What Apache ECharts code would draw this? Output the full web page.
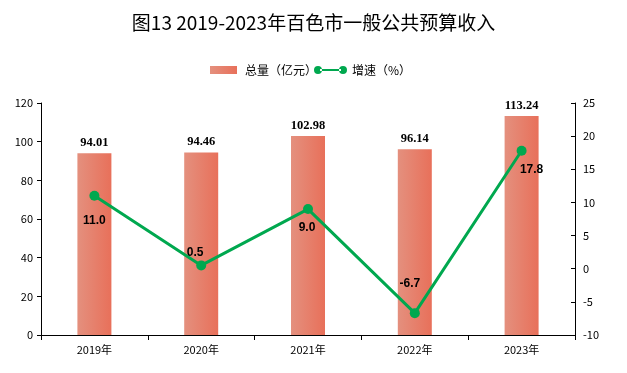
<!DOCTYPE html>
<html><head><meta charset="utf-8">
<script src="https://cdn.jsdelivr.net/npm/echarts@6/dist/echarts.min.js"></script>
<style>html,body{margin:0;padding:0;background:#fff}#c{width:627px;height:373px}</style>
</head><body><div id="c"></div>
<script>
const categories = ['2019年','2020年','2021年','2022年','2023年'];
const totals = [94.01, 94.46, 102.98, 96.14, 113.24];
const growth = [11.0, 0.5, 9.0, -6.7, 17.8];
const growthLabels = ['11.0','0.5','9.0','-6.7','17.8'];
const leftTicks = {min: 0, max: 120, interval: 20};
const rightTicks = {min: -10, max: 25, interval: 5};

// label placement per point (style only)
const labelPlace = [
  {position: 'bottom', offset: [0, 8]},
  {position: 'top', offset: [-6, 4]},
  {position: 'bottom', offset: [-1, 2]},
  {position: 'top', offset: [-5, -12]},
  {position: 'bottom', offset: [10, 2]}
];

const chart = echarts.init(document.getElementById('c'), null, {renderer: 'canvas'});
const axisFont = {fontFamily: '"Noto Sans CJK SC", sans-serif', fontSize: 11, color: '#000'};
const lineIcon = 'path://M0,4 a4,4 0 1,0 8,0 a4,4 0 1,0 -8,0 Z M25,4 a4,4 0 1,0 8,0 a4,4 0 1,0 -8,0 Z M6,3 L27,3 L27,5 L6,5 Z';
const barIcon = 'path://M0,0 L27,0 L27,8 L0,8 Z';
chart.setOption({
  animation: false,
  title: {
    text: '图13 2019-2023年百色市一般公共预算收入',
    left: 'center', top: 8,
    textStyle: {fontFamily: '"Noto Sans CJK SC", sans-serif', fontSize: 19, fontWeight: 'normal', color: '#000'}
  },
  legend: {
    top: 59, left: 205, itemGap: -3, itemWidth: 33, itemHeight: 8, symbolKeepAspect: true,
    textStyle: {fontFamily: '"Noto Sans CJK SC", sans-serif', fontSize: 12, color: '#000'},
    data: [
      {name: '总量（亿元）', icon: barIcon},
      {name: '增速（%）', icon: lineIcon}
    ]
  },
  grid: {left: 41, right: 52, top: 103, bottom: 38, containLabel: false},
  xAxis: {
    type: 'category', data: categories, boundaryGap: true,
    axisLine: {lineStyle: {color: '#000', width: 1}},
    axisTick: {show: true, length: 5, lineStyle: {color: '#000'}},
    axisLabel: Object.assign({margin: 9}, axisFont)
  },
  yAxis: [
    {type: 'value', min: leftTicks.min, max: leftTicks.max, interval: leftTicks.interval,
     splitLine: {show: false},
     axisLine: {show: true, lineStyle: {color: '#000'}},
     axisTick: {show: true, length: 4, lineStyle: {color: '#000'}},
     axisLabel: Object.assign({margin: 8}, axisFont)},
    {type: 'value', min: rightTicks.min, max: rightTicks.max, interval: rightTicks.interval,
     splitLine: {show: false},
     axisLine: {show: true, lineStyle: {color: '#000'}},
     axisTick: {show: true, inside: true, length: 4, lineStyle: {color: '#000'}},
     axisLabel: Object.assign({margin: 8}, axisFont)}
  ],
  series: [
    {
      name: '总量（亿元）', type: 'bar', yAxisIndex: 0, barWidth: 34,
      data: totals,
      itemStyle: {color: new echarts.graphic.LinearGradient(0, 0, 1, 0, [
        {offset: 0, color: '#E4907E'}, {offset: 1, color: '#E8705A'}])},
      label: {show: true, position: 'top', distance: 4,
        fontFamily: '"Liberation Serif", "Times New Roman", serif', fontWeight: 'bold', fontSize: 12.5, color: '#000',
        formatter: p => p.value.toFixed(2)}
    },
    {
      name: '增速（%）', type: 'line', yAxisIndex: 1,
      data: growth.map((v, i) => ({value: v, label: Object.assign({show: true, formatter: growthLabels[i]}, labelPlace[i])})),
      symbol: 'circle', symbolSize: 10,
      lineStyle: {color: '#00A84F', width: 3},
      itemStyle: {color: '#00A84F'},
      label: {show: true, fontFamily: '"Liberation Sans", Arial, sans-serif', fontWeight: 'bold', fontSize: 12, color: '#000', distance: 6}
    }
  ]
});
</script></body></html>
